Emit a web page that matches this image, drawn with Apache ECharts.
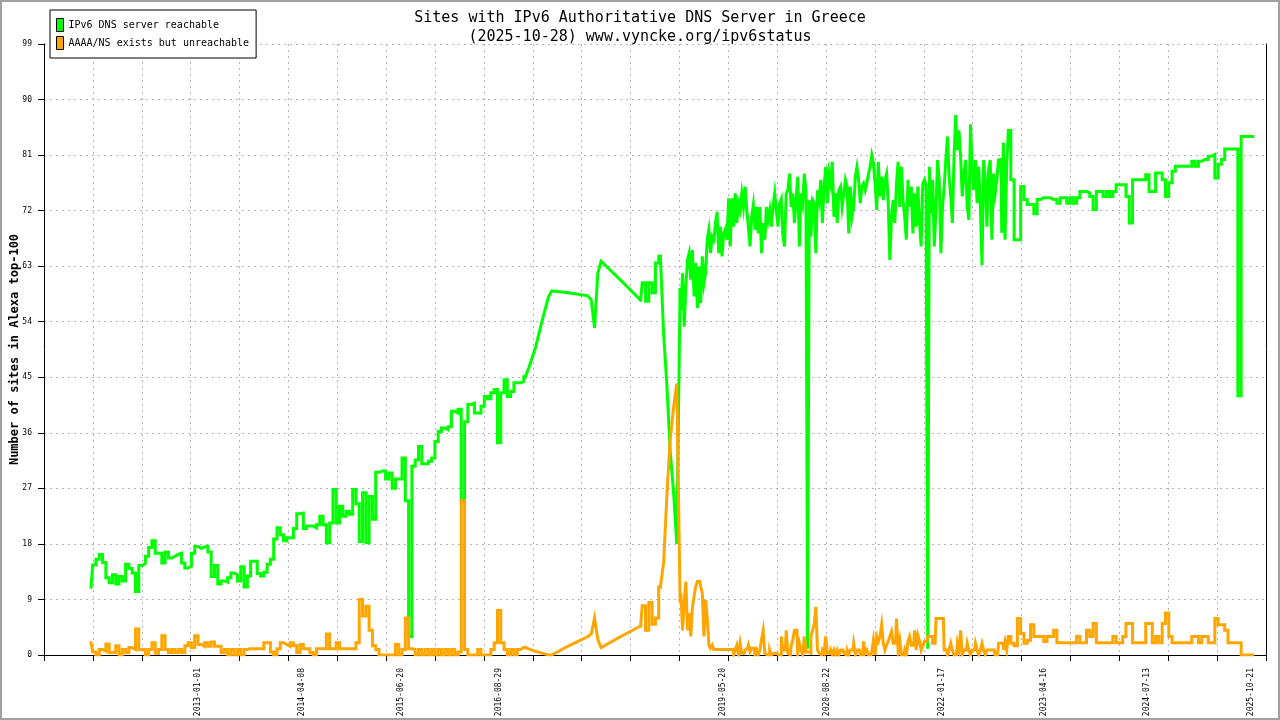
<!DOCTYPE html>
<html>
<head>
<meta charset="utf-8">
<script src="https://cdn.jsdelivr.net/npm/echarts@6/dist/echarts.min.js"></script>
<style>
html,body{margin:0;padding:0;background:#fff;}
#chart{width:1280px;height:720px;}
</style>
</head>
<body>
<div id="chart"></div>
<script>
// ---- texts ----
const titleLines = ['Sites with IPv6 Authoritative DNS Server in Greece', '(2025-10-28) www.vyncke.org/ipv6status'];
const yAxisTitle = 'Number of sites in Alexa top-100';
const seriesNames = ['IPv6 DNS server reachable', 'AAAA/NS exists but unreachable'];

// ---- axes ----
const yTicks = [0, 9, 18, 27, 36, 45, 54, 63, 72, 81, 90, 99];
const xLabelDates = ['2013-01-01', '2014-04-08', '2015-06-20', '2016-08-29', '2019-05-20',
                     '2020-08-22', '2022-01-17', '2023-04-16', '2024-07-13', '2025-10-21'];
const xRange = [2011.128, 2025.982];   // decimal years
const xTickCount = 25;                  // equal divisions of the time axis
// periods without measurements: the plot joins the neighbouring points with straight lines
const dataGaps = [[2016.98, 2018.38], [2018.62, 2018.86]];

// ---- data (decimal year, counts) ----
const dates = [
 2011.70,2011.74,2011.78,2011.82,2011.86,2011.90,2011.94,2011.98,2012.02,2012.06,2012.10,2012.14,2012.18,2012.22,2012.26,2012.30,2012.34,2012.38,2012.42,2012.46,2012.50,2012.54,2012.58,2012.62,2012.66,
 2012.70,2012.74,2012.78,2012.82,2012.86,2012.90,2012.94,2012.98,2013.02,2013.06,2013.10,2013.14,2013.18,2013.22,2013.26,2013.30,2013.34,2013.38,2013.42,2013.46,2013.50,2013.54,2013.58,2013.62,2013.66,
 2013.70,2013.74,2013.78,2013.82,2013.86,2013.90,2013.94,2013.98,2014.02,2014.06,2014.10,2014.14,2014.18,2014.22,2014.26,2014.30,2014.34,2014.38,2014.42,2014.46,2014.50,2014.54,2014.58,2014.62,2014.66,
 2014.70,2014.74,2014.78,2014.82,2014.86,2014.90,2014.94,2014.98,2015.02,2015.06,2015.10,2015.14,2015.18,2015.22,2015.26,2015.30,2015.34,2015.38,2015.42,2015.46,2015.50,2015.54,2015.58,2015.62,2015.66,
 2015.70,2015.74,2015.78,2015.82,2015.86,2015.90,2015.94,2015.98,2016.02,2016.06,2016.10,2016.14,2016.18,2016.22,2016.26,2016.30,2016.34,2016.38,2016.42,2016.46,2016.50,2016.54,2016.58,2016.62,2016.66,
 2016.70,2016.74,2016.78,2016.82,2016.86,2016.90,2016.94,2016.98,2017.02,2017.10,2017.18,2017.26,2017.30,2017.50,
 2017.74,2017.78,2017.82,2017.86,2017.90,2018.14,2018.38,2018.42,2018.46,2018.50,2018.54,2018.58,2018.62,2018.66,
 2018.70,2018.74,2018.78,2018.82,
 2018.86,2018.88,2018.90,2018.92,2018.94,2018.96,2018.98,2019.00,2019.02,2019.04,2019.06,2019.08,2019.10,2019.12,2019.14,2019.16,2019.18,2019.20,2019.22,2019.24,2019.26,2019.28,2019.30,2019.32,2019.34,
 2019.36,2019.38,2019.40,2019.42,2019.44,2019.46,2019.48,2019.50,2019.52,2019.54,2019.56,2019.58,2019.60,2019.62,2019.64,2019.66,2019.68,2019.70,2019.72,2019.74,2019.76,2019.78,2019.80,2019.82,2019.84,
 2019.86,2019.88,2019.90,2019.92,2019.94,2019.96,2019.98,2020.00,2020.02,2020.04,2020.06,2020.08,2020.10,2020.12,2020.14,2020.16,2020.18,2020.20,2020.22,2020.24,2020.26,2020.28,2020.30,2020.32,2020.34,
 2020.36,2020.38,2020.40,2020.42,2020.44,2020.46,2020.48,2020.50,2020.52,2020.54,2020.56,2020.58,2020.60,2020.62,2020.64,2020.66,2020.68,2020.70,2020.72,2020.74,2020.76,2020.78,2020.80,2020.82,2020.84,
 2020.86,2020.88,2020.90,2020.92,2020.94,2020.96,2020.98,2021.00,2021.02,2021.04,2021.06,2021.08,2021.10,2021.12,2021.14,2021.16,2021.18,2021.20,2021.22,2021.24,2021.26,2021.28,2021.30,2021.32,2021.34,
 2021.36,2021.38,2021.40,2021.42,2021.44,2021.46,2021.48,2021.50,2021.52,2021.54,2021.56,2021.58,2021.60,2021.62,2021.64,2021.66,2021.68,2021.70,2021.72,2021.74,2021.76,2021.78,2021.80,2021.82,2021.84,
 2021.86,2021.88,2021.90,2021.92,2021.94,2021.96,2021.98,2022.00,2022.02,2022.04,2022.06,2022.08,2022.10,2022.12,2022.14,2022.16,2022.18,2022.20,2022.22,2022.24,2022.26,2022.28,2022.30,2022.32,2022.34,
 2022.36,2022.38,2022.40,2022.42,2022.44,2022.46,2022.48,2022.50,2022.52,2022.54,2022.56,2022.58,2022.60,2022.62,2022.64,2022.66,2022.68,2022.70,2022.72,2022.74,2022.76,2022.78,2022.80,2022.82,2022.84,
 2022.86,
 2022.90,2022.94,2022.98,2023.02,2023.06,2023.10,2023.14,2023.18,2023.22,2023.26,2023.30,2023.34,2023.38,2023.42,2023.46,2023.50,2023.54,2023.58,2023.62,2023.66,
 2023.70,2023.74,2023.78,2023.82,2023.86,2023.90,2023.94,2023.98,2024.02,2024.06,2024.10,2024.14,2024.18,2024.22,2024.26,2024.30,2024.34,2024.38,2024.42,2024.46,2024.50,2024.54,2024.58,2024.62,2024.66,
 2024.70,2024.74,2024.78,2024.82,2024.86,2024.90,2024.94,2024.98,2025.02,2025.06,2025.10,2025.14,2025.18,2025.22,2025.26,2025.30,2025.34,2025.38,2025.42,2025.46,2025.50,2025.54,2025.58,2025.62,2025.66,
 2025.70,2025.74,2025.78,2025.82
];
const reachable = [
 11,14.6,15.5,16.3,15,12.5,11.7,13,11.5,12.7,12,14.7,14,13.3,10.3,14.5,14.8,16,17.4,18.5,16.5,16.5,14.9,16.7,15.7,
 16,16.3,16.5,14.9,14.1,14.4,16.5,17.6,17.3,17.5,17.6,16.7,12.7,14.5,11.5,12,11.8,12.5,13.3,13,12,14.3,11,12.8,15.2,
 15.2,13.2,12.8,13.4,14.7,15.5,18.8,20.6,19.5,18.5,19,19,20.5,22.9,23,20.5,20.9,20.9,20.6,21.1,22.5,21.1,18.2,21.4,26.8,
 21.4,24.1,22.5,23.3,22.8,26.8,24.5,18.4,26.3,18.2,25.7,22,29.6,29.8,29.8,28.5,29.5,27,28.5,28.5,31.9,25,3,30.6,31.6,
 33.8,31,31,31.4,31.9,34.6,36.2,36.8,36.5,37,39.5,39.2,39.8,25,37.8,40.6,40.8,39.2,39.2,40.3,41.9,41.5,42.5,43,34.4,
 42.5,44.6,41.9,42.7,44.1,44.1,44.3,45.1,46.5,49.7,54,58,59,58.7,
 58.2,57.5,53,61.9,63.8,60.7,57.5,60.3,57.3,60.3,58.7,63.5,64.6,52,
 43.5,33,26.5,18,
 59.2,55.9,61.9,53.2,59.7,64,65.1,60.8,65.6,58.1,63.5,56.2,62.9,57,64.6,60.2,61.9,67.3,68.9,65.1,67.8,67.3,70,71.8,65.1,
 69.4,64.6,68.3,69,67.3,74,66.2,74,69.4,74.8,70,73.2,72.1,74.8,72.6,75.9,72.1,69.4,66.2,71,72.9,68.9,72.6,68.3,72.6,
 65.1,70,67.3,72.6,70.5,72.1,69.4,72.6,74.8,72.1,69.4,73.2,73.9,67.8,66.2,74.8,75.3,78,72.6,74.8,70,73.7,77.5,66.2,74.8,
 73.2,78,75.3,1,73.7,67.8,73.7,73.2,65.1,75.3,73.7,77,70,75.9,79.1,73.2,78,76.4,79.9,71,74.8,70,75.3,75.9,72.6,
 74.8,77,75.9,68.3,75.9,71,72.6,77.5,79.1,77,73.2,75.9,76.4,75.3,76.4,78,79.1,81,79.7,76.4,72.1,79.9,74.3,77.5,73.7,
 77,78,73.2,64,71,73.7,70,76.4,79.9,72.6,79.1,73.7,71,67.3,77,72.6,75.9,68.3,74.8,69.4,75.9,70,66.2,76.4,77,
 76,1,79.1,71.6,77,66.2,72.1,80.2,77,65.1,72.6,75.9,80.2,84,77.5,74.3,70,80.7,87.5,81.8,85,80.7,74.3,78,80.2,
 72.6,70.5,86,79.1,75.3,80.2,73.2,79.1,72.6,63.2,80.2,77,69.4,78.6,80.2,67.3,78,74.8,77,80.2,80.3,68.4,83,67.3,79.2,
 85,
 77,67.3,67.3,75.9,73.8,73,73,71.5,73.8,74.1,74.1,74.1,73.8,73.8,73.2,74.1,74.1,73.2,74.1,73.2,
 74.1,75.1,75.1,74.9,74.3,72.2,75.1,75.1,74.3,75.1,74.3,75.1,76.2,76.2,76.2,74.3,70,77,77,77,77,77.8,75.1,75.1,78.1,
 78.1,77,74.3,76.5,78.4,79.2,79.2,79.2,79.2,79.2,80,79.2,80,80.3,80.3,80.8,81.1,77.3,79.5,80.3,82,82,82,82,42,
 84,84,84,84
];
const unreachable = [
 2,0.5,0,0.9,0.6,1.8,0.4,0.4,1.5,0,0.9,0.4,1.2,0.9,4.2,0.9,0.9,0,0.9,2,0.3,0.9,3.1,0.9,0.4,
 0.9,0.4,0.9,0.4,1.5,2,1.2,3.1,1.7,1.4,2,1.4,2.1,1.4,1.4,0.4,0.9,0,0.9,0,0.9,0,0.9,1,1,
 1,1,1,2,2,0.5,0,1,2,1.7,1.4,2,1.5,0.4,1.7,1,1,0.4,0,1,1,1,3.4,1,1,
 2,1,1,1,1,1,2,9,6.3,7.9,4,1.5,0.9,0,0,0,0,0,1.7,0,0.9,6,1,0.9,0,
 0.9,0,0.9,0,0.9,0,0.9,0,0.9,0,0.9,0,0.5,25,0.9,0,0,0,0.9,0,0,0,0.9,2,7.2,
 2,0.9,0,0.9,0,0.9,1.2,1.2,1,0.6,0.3,0,0,1.45,
 3,3.4,6,2.5,1.2,3,4.7,8,4,8.5,5,6,11,15,
 26,35,40,44,
 8.9,10,4,8.4,11.9,4,6.8,3,7.8,9.5,11.1,11.9,11.9,11.1,10,3,8.9,6,1.6,1.1,1.6,0.9,0.9,0.9,0.9,
 0.9,0.9,0.9,0.9,0.9,0.9,0.9,0.9,0,0.8,1.6,0,1.9,0.3,0.3,0.8,1.1,1.6,0.5,1.1,1.1,0,0.8,0,0.8,
 2.5,4,0.3,0,0,0.8,0,0.3,0.3,0,0,0,3,0.8,0.8,4,0.3,0,1.4,2.4,4,4,0.3,1.9,0.8,
 0,3,0.5,0.5,0.3,3,4,5,7.8,0.8,0.3,0,0.8,0.3,3,0.3,0.3,0.8,0,0.8,0,0.8,0,0.8,0.8,
 0.3,0,0.8,0,0.8,0.8,1.9,0,0.8,0.8,0,0,2.2,0.3,0.8,0,0,0.5,2.4,0,3,2.2,3,4.9,1.9,
 0.8,1.6,2.2,3,3.8,1.9,1.9,5.9,0.8,2.4,0,0,0.8,0,2.2,3,1.6,1.6,4,0.8,3.2,2.2,0.8,1.6,2.2,
 2.2,3,3,3,1.9,1.9,5.9,5.9,5.9,5.9,5.9,0.8,0.8,0,0.8,1.9,0.8,0,0,1.9,0.8,4,0,0.8,0.8,
 1.9,0.8,0,0.8,0.8,1.9,0.8,0,0.8,1.9,0.8,0,0.8,0.8,0.8,0.8,0.8,0,0,1.9,1.9,1.9,0.8,2.2,0.8,
 3,
 1.9,1.5,5.9,3.5,1.9,2.4,4.9,3,3,3,2.2,3,3,4,2,2,2,2,2,2,
 3,2,2,4,3,5.1,2,2,2,2,2,3,2,2,3,5.1,5.1,2,2,2,2,5.1,5.1,2,3,
 2,5.1,6.8,3,2,2,2,2,2,2,3,3,2,3,3,2,2,5.9,4.9,4.9,4,2,2,2,2,
 0,0,0,0
];

// ---- colours ----
const colors = ['#00ff00', '#ffa500'];
const mono = 'DejaVu Sans Mono';

function toYear(s) {
  const p = s.split('-').map(Number);
  const a = Date.UTC(p[0], 0, 1), b = Date.UTC(p[0] + 1, 0, 1);
  return p[0] + (Date.UTC(p[0], p[1] - 1, p[2]) - a) / (b - a);
}
const labelPos = xLabelDates.map(toYear);
const tickPos = [];
for (let k = 0; k <= xTickCount; k++) {
  tickPos.push(k === xTickCount ? xRange[1] : xRange[0] + k * (xRange[1] - xRange[0]) / xTickCount);
}
function labelFor(v) {
  let best = 0, bd = Infinity;
  labelPos.forEach((p, i) => { const d = Math.abs(p - v); if (d < bd) { bd = d; best = i; } });
  return xLabelDates[best];
}
function inGap(i) {
  return dataGaps.some(g => dates[i] >= g[0] - 1e-6 && dates[i + 1] <= g[1] + 1e-6);
}
// split a series into measured stretches (stepped) and gap stretches (straight joins)
function buildSeries(name, values, color, z) {
  const out = [];
  let start = 0, type = inGap(0);
  for (let i = 1; i < dates.length; i++) {
    const t = i < dates.length - 1 ? inGap(i) : null;
    if (t !== type) {
      const pts = [];
      for (let j = start; j <= i; j++) pts.push([dates[j], values[j]]);
      out.push({
        name: name, type: 'line', showSymbol: false, symbol: 'none',
        step: type ? false : 'middle', data: pts,
        lineStyle: {color: color, width: 3, cap: 'square', join: 'miter'},
        itemStyle: {color: color}, z: z, silent: true
      });
      start = i; type = t;
    }
  }
  return out;
}

const chart = echarts.init(document.getElementById('chart'), null, {renderer: 'canvas'});
const dash = {color: '#b4b4b4', width: 1, type: [2, 4]};
chart.setOption({
  animation: false,
  backgroundColor: '#ffffff',
  title: {
    text: titleLines.join('\n'),
    left: 'center', top: 4,
    textStyle: {fontFamily: mono, fontSize: 15, fontWeight: 'normal', color: '#000', lineHeight: 19}
  },
  legend: {
    data: seriesNames,
    orient: 'vertical', left: 50, top: 10,
    padding: [8, 7, 8, 6], itemGap: 4,
    itemWidth: 7, itemHeight: 13, icon: 'rect',
    backgroundColor: '#fff', borderColor: '#000', borderWidth: 1, borderRadius: 0,
    itemStyle: {borderColor: '#000', borderWidth: 1},
    textStyle: {fontFamily: mono, fontSize: 10, color: '#000'}
  },
  grid: {left: 44, right: 14, top: 44, bottom: 65, containLabel: false, outerBoundsMode: 'none'},
  xAxis: {
    type: 'value', min: xRange[0], max: xRange[1],
    axisLine: {show: true, onZero: false, lineStyle: {color: '#000', width: 1}},
    axisTick: {show: true, length: 6, inside: false, customValues: tickPos, lineStyle: {color: '#000'}},
    splitLine: {show: true, lineStyle: dash},
    axisLabel: {
      customValues: labelPos, rotate: 90, margin: 13,
      fontFamily: mono, fontSize: 8, color: '#000',
      formatter: labelFor
    }
  },
  yAxis: [{
    type: 'value', min: yTicks[0], max: yTicks[yTicks.length - 1], interval: yTicks[1] - yTicks[0],
    name: yAxisTitle, nameLocation: 'middle', nameGap: 23, nameMoveOverlap: false,
    nameTextStyle: {fontFamily: mono, fontSize: 12, fontWeight: 'bold', color: '#000'},
    axisLine: {show: true, lineStyle: {color: '#000', width: 1}},
    axisTick: {show: true, length: 6, inside: false, lineStyle: {color: '#000'}},
    splitLine: {show: true, lineStyle: dash},
    axisLabel: {margin: 12, fontFamily: mono, fontSize: 8, color: '#000'}
  }, {
    type: 'value', min: yTicks[0], max: yTicks[yTicks.length - 1], interval: yTicks[1] - yTicks[0], position: 'right',
    axisLine: {show: true, lineStyle: {color: '#000', width: 1}},
    axisTick: {show: false}, axisLabel: {show: false}, splitLine: {show: false}
  }],
  graphic: [{
    type: 'rect', silent: true, z: 100,
    shape: {x: 1, y: 1, width: 1278, height: 718},
    style: {fill: 'none', stroke: '#a0a0a0', lineWidth: 2}
  }],
  series: buildSeries(seriesNames[0], reachable, colors[0], 2)
    .concat(buildSeries(seriesNames[1], unreachable, colors[1], 3))
});
</script>
</body>
</html>
